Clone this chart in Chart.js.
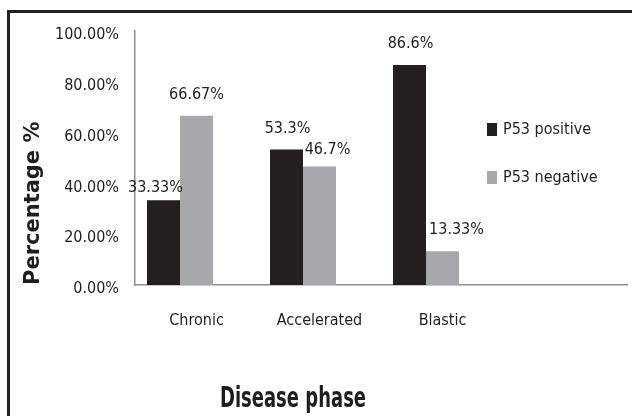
<!DOCTYPE html>
<html>
<head>
<meta charset="utf-8">
<script src="https://cdn.jsdelivr.net/npm/chart.js@4/dist/chart.umd.min.js"></script>
<style>
	html, body { margin: 0; padding: 0; background: #fff; overflow: hidden; }
	canvas { display: block; }
</style>
</head>
<body>
<canvas id="phaseChart" width="632" height="416"></canvas>
<script>
// chart values
const categories = ["Chronic", "Accelerated", "Blastic", ""];
const p53Positive = [33.33, 53.3, 86.6];
const p53Negative = [66.67, 46.7, 13.33];
const yTickLabels = ["0.00%", "20.00%", "40.00%", "60.00%", "80.00%", "100.00%"];
const xTitle = "Disease phase";
const yTitle = "Percentage %";

const textFont = "'DejaVu Sans Condensed', 'Liberation Sans Narrow', sans-serif";
const textColor = "#1e1e1e";
const axisColor = "#8e8e8e";

// small nudges for the value labels that sit off-centre in the original
const labelNudge = [
	[[-8, 9], [1, 0], [1, 0]],
	[[0, 0], [8, 4], [14, 0]],
];

// frame round the figure, value labels, legend on the right and the x title
const decorPlugin = {
	id: "decor",
	beforeDraw(chart) {
		const ctx = chart.ctx;
		ctx.save();
		ctx.fillStyle = "#222";
		ctx.fillRect(7, 10, 3, chart.height - 10);
		ctx.fillRect(7, 10, chart.width - 7, 3);
		ctx.restore();
	},
	afterDatasetsDraw(chart) {
		const ctx = chart.ctx;
		ctx.save();
		ctx.font = "16px " + textFont;
		ctx.fillStyle = textColor;
		ctx.textAlign = "center";
		ctx.textBaseline = "middle";
		[0, 1].forEach((di) => {
			const meta = chart.getDatasetMeta(di);
			const values = chart.data.datasets[di].data;
			meta.data.forEach((bar, i) => {
				if (values[i] == null) return;
				const n = labelNudge[di][i] || [0, 0];
				ctx.fillText(values[i] + "%", bar.x + n[0], bar.y - 21 + n[1]);
			});
		});

		// legend
		const area = chart.chartArea;
		const lx = area.right - 140;
		let ly = 130;
		[0, 1].forEach((di) => {
			const ds = chart.data.datasets[di];
			ctx.fillStyle = ds.backgroundColor;
			ctx.fillRect(lx, ly - 7, 10, 13);
			ctx.fillStyle = textColor;
			ctx.textAlign = "left";
			ctx.fillText(ds.label, lx + 16, ly);
			ly += 48;
		});

		// x axis title, centred on the figure and drawn a little tall like the original
		ctx.translate(293, 407);
		ctx.scale(1, 1.4);
		ctx.font = "bold 20px " + textFont;
		ctx.textAlign = "center";
		ctx.textBaseline = "alphabetic";
		ctx.fillText(xTitle, 0, 0);
		ctx.restore();
	},
};

const ctx = document.getElementById("phaseChart").getContext("2d");
new Chart(ctx, {
	type: "bar",
	data: {
		labels: categories,
		datasets: [
			{ label: "P53 positive", data: p53Positive, backgroundColor: "#231f20" },
			{ label: "P53 negative", data: p53Negative, backgroundColor: "#a7a8ab" },
			// empty slot so the pair sits left of the category centre, as in the original
			{ label: "", data: [null, null, null, null], backgroundColor: "rgba(0,0,0,0)" },
		],
	},
	options: {
		responsive: false,
		animation: false,
		layout: { padding: { left: 10, right: 5, top: 31, bottom: 0 } },
		datasets: { bar: { categoryPercentage: 0.805, barPercentage: 1.0, borderWidth: 0 } },
		plugins: {
			legend: { display: false },
			tooltip: { enabled: false },
		},
		scales: {
			x: {
				grid: { display: false, drawTicks: false },
				border: { display: true, color: axisColor, width: 1.5 },
				ticks: { color: textColor, padding: 26, font: { family: textFont, size: 16 } },
				afterFit(scale) {
					scale.height = 131;
				},
			},
			y: {
				min: 0,
				max: 100,
				grid: { display: false, drawTicks: false },
				border: { display: true, color: axisColor, width: 1.5 },
				ticks: {
					stepSize: 20,
					color: textColor,
					padding: 16,
					labelOffset: 4,
					font: { family: textFont, size: 16 },
					callback: (v, i) => yTickLabels[i],
				},
				title: {
					display: true,
					text: yTitle,
					align: "start",
					color: textColor,
					font: { family: "'DejaVu Sans', sans-serif", size: 21, weight: "bold" },
					padding: { top: 11, bottom: 8 },
				},
				afterFit(scale) {
					scale.width = 125;
				},
			},
		},
	},
	plugins: [decorPlugin],
});
</script>
</body>
</html>
